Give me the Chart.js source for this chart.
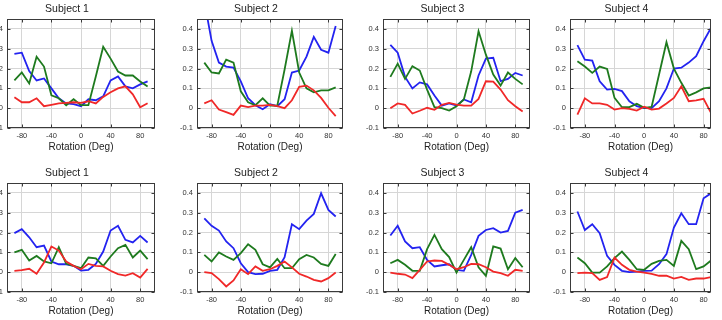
<!DOCTYPE html>
<html>
<head>
<meta charset="utf-8">
<script src="https://cdn.jsdelivr.net/npm/chart.js@4.4.0/dist/chart.umd.min.js"></script>
<style>
  body { margin: 0; width: 722px; height: 320px; overflow: hidden; background: #fff; position: relative; }
  canvas { position: absolute; }
</style>
</head>
<body>
<canvas id="t1"></canvas><canvas id="t2"></canvas><canvas id="t3"></canvas><canvas id="t4"></canvas>
<canvas id="b1"></canvas><canvas id="b2"></canvas><canvas id="b3"></canvas><canvas id="b4"></canvas>
<script>
const angles = [-90, -80, -70, -60, -50, -40, -30, -20, -10, 0, 10, 20, 30, 40, 50, 60, 70, 80, 90];
const xTicks = [-80, -40, 0, 40, 80];
const yTicks = [-0.1, 0, 0.1, 0.2, 0.3, 0.4];
const subjects = ["Subject 1", "Subject 2", "Subject 3", "Subject 4"];
const xLabel = "Rotation (Deg)";

// top row
const top1Blue  = [0.274, 0.28, 0.187, 0.14, 0.15, 0.10, 0.05, 0.024, 0.02, 0.01, 0.045, 0.04, 0.06, 0.14, 0.16, 0.11, 0.10, 0.12, 0.135];
const top1Green = [0.14, 0.18, 0.125, 0.26, 0.21, 0.065, 0.05, 0.015, 0.045, 0.015, 0.015, 0.16, 0.31, 0.25, 0.185, 0.165, 0.165, 0.135, 0.11];
const top1Red   = [0.055, 0.03, 0.03, 0.05, 0.01, 0.017, 0.024, 0.027, 0.03, 0.027, 0.035, 0.024, 0.057, 0.08, 0.10, 0.11, 0.07, 0.005, 0.025];

const top2Blue  = [0.54, 0.34, 0.23, 0.21, 0.205, 0.135, 0.05, 0.015, -0.005, 0.02, 0.01, 0.045, 0.18, 0.19, 0.26, 0.36, 0.295, 0.28, 0.415];
const top2Green = [0.23, 0.18, 0.175, 0.245, 0.23, 0.085, 0.03, 0.015, 0.05, 0.013, 0.013, 0.195, 0.39, 0.18, 0.10, 0.08, 0.09, 0.09, 0.105];
const top2Red   = [0.024, 0.04, -0.007, -0.02, -0.034, 0.013, 0.005, 0.013, 0.013, 0.017, 0.01, 0.0, 0.04, 0.108, 0.114, 0.09, 0.052, 0.002, -0.04];

const top3Blue  = [0.32, 0.28, 0.158, 0.10, 0.13, 0.12, 0.064, 0.013, 0.024, 0.013, 0.044, 0.03, 0.165, 0.25, 0.254, 0.136, 0.148, 0.178, 0.165];
const top3Green = [0.158, 0.225, 0.148, 0.212, 0.19, 0.094, 0.005, 0.0, -0.012, 0.01, 0.044, 0.186, 0.388, 0.27, 0.17, 0.114, 0.18, 0.148, 0.12];
const top3Red   = [0.0, 0.024, 0.017, -0.027, -0.013, 0.002, -0.008, 0.017, 0.027, 0.018, 0.013, 0.013, 0.047, 0.136, 0.134, 0.094, 0.04, 0.01, -0.017];

const top4Blue  = [0.318, 0.245, 0.24, 0.136, 0.094, 0.097, 0.086, 0.035, 0.01, 0.0, 0.0, 0.035, 0.10, 0.20, 0.204, 0.23, 0.262, 0.338, 0.405];
const top4Green = [0.237, 0.21, 0.178, 0.21, 0.198, 0.052, 0.005, 0.005, 0.022, 0.002, 0.007, 0.17, 0.333, 0.2, 0.128, 0.064, 0.08, 0.1, 0.105];
const top4Red   = [-0.032, 0.05, 0.024, 0.024, 0.017, -0.007, 0.0, -0.003, -0.012, 0.007, -0.007, -0.002, 0.024, 0.052, 0.11, 0.035, 0.039, 0.047, -0.024];

// bottom row
const bot1Blue  = [0.197, 0.217, 0.176, 0.126, 0.134, 0.054, 0.04, 0.04, 0.032, 0.008, 0.012, 0.042, 0.104, 0.21, 0.234, 0.163, 0.15, 0.183, 0.15];
const bot1Green = [0.1, 0.113, 0.059, 0.082, 0.054, 0.045, 0.126, 0.042, 0.032, 0.02, 0.074, 0.07, 0.032, 0.079, 0.121, 0.138, 0.074, 0.109, 0.066];
const bot1Red   = [0.007, 0.01, 0.017, -0.008, 0.049, 0.13, 0.109, 0.054, 0.032, 0.015, 0.042, 0.032, 0.029, 0.007, -0.01, -0.017, -0.005, -0.027, 0.017];

const bot2Blue  = [0.272, 0.234, 0.21, 0.155, 0.121, 0.045, 0.0, -0.01, -0.008, 0.007, 0.012, 0.076, 0.242, 0.217, 0.26, 0.294, 0.398, 0.314, 0.281];
const bot2Green = [0.087, 0.054, 0.1, 0.079, 0.062, 0.096, 0.141, 0.113, 0.04, 0.024, 0.067, 0.02, 0.02, 0.066, 0.087, 0.074, 0.042, 0.032, 0.092];
const bot2Red   = [0.0, -0.005, -0.035, -0.072, -0.042, 0.015, -0.01, 0.029, 0.007, 0.015, 0.032, 0.054, 0.024, -0.008, -0.022, -0.039, -0.047, -0.03, -0.002];

const bot3Blue  = [0.185, 0.234, 0.155, 0.121, 0.126, 0.062, 0.029, 0.035, 0.04, 0.012, 0.007, 0.087, 0.183, 0.213, 0.222, 0.2, 0.208, 0.3, 0.314];
const bot3Green = [0.045, 0.062, 0.037, 0.007, 0.007, 0.116, 0.188, 0.116, 0.076, -0.002, 0.062, 0.126, 0.025, -0.018, 0.13, 0.119, 0.015, 0.071, 0.025];
const bot3Red   = [-0.002, -0.008, -0.012, -0.03, 0.012, 0.054, 0.059, 0.057, 0.037, 0.015, 0.025, 0.042, 0.04, 0.025, 0.003, -0.005, -0.018, 0.012, 0.007];

const bot4Blue  = [0.306, 0.213, 0.242, 0.197, 0.082, 0.037, 0.007, 0.0, 0.003, 0.007, 0.008, 0.04, 0.091, 0.225, 0.297, 0.242, 0.242, 0.373, 0.398];
const bot4Green = [0.074, 0.045, -0.002, -0.002, 0.029, 0.071, 0.104, 0.062, 0.015, 0.012, 0.042, 0.057, 0.062, 0.032, 0.158, 0.116, 0.015, 0.029, 0.059];
const bot4Red   = [-0.005, -0.002, -0.005, -0.039, -0.025, 0.074, 0.037, 0.012, 0.003, -0.002, -0.008, -0.018, -0.017, -0.032, -0.024, -0.039, -0.032, -0.032, -0.025];

const FONT = "'Liberation Sans', Arial, Helvetica, sans-serif";
const BLUE = "rgb(35,35,240)", GREEN = "rgb(30,122,30)", RED = "rgb(240,40,40)";
const GRID = "#d6d6d6";

// layout of each panel (plot area left / width), rows by canvas top
const Y_W = 28, TITLE_H = 19, AREA_H = 109, X_H = 25;
const cols = [{ left: 7, w: 148, xMax: 100 }, { left: 197, w: 146, xMax: 100 }, { left: 383, w: 147, xMax: 100 }, { left: 570, w: 141, xMax: 90 }];
const rows = [
  { top: 0, ids: ["t1", "t2", "t3", "t4"], series: [[top1Blue, top1Green, top1Red], [top2Blue, top2Green, top2Red], [top3Blue, top3Green, top3Red], [top4Blue, top4Green, top4Red]] },
  { top: 164, ids: ["b1", "b2", "b3", "b4"], series: [[bot1Blue, bot1Green, bot1Red], [bot2Blue, bot2Green, bot2Red], [bot3Blue, bot3Green, bot3Red], [bot4Blue, bot4Green, bot4Red]] }
];

// matlab-like box with inward ticks
const frame = {
  id: "frame",
  afterDraw(chart) {
    const { ctx, chartArea: a, scales } = chart;
    ctx.save();
    ctx.strokeStyle = "#3a3a3a";
    ctx.lineWidth = 1;
    const l = Math.round(a.left) + 0.5, t = Math.round(a.top) + 0.5;
    const r = Math.round(a.right) - 0.5, b = Math.round(a.bottom) - 0.5;
    ctx.strokeRect(l, t, r - l, b - t);
    ctx.beginPath();
    xTicks.forEach(v => {
      const px = Math.round(scales.x.getPixelForValue(v)) + 0.5;
      ctx.moveTo(px, t); ctx.lineTo(px, t + 3);
      ctx.moveTo(px, b); ctx.lineTo(px, b - 3);
    });
    yTicks.forEach(v => {
      const py = Math.round(scales.y.getPixelForValue(v)) + 0.5;
      ctx.moveTo(l, py); ctx.lineTo(l + 3, py);
      ctx.moveTo(r, py); ctx.lineTo(r - 3, py);
    });
    ctx.stroke();
    ctx.restore();
  }
};

function line(values, color) {
  return {
    data: angles.map((a, i) => ({ x: a, y: values[i] })),
    borderColor: color,
    borderWidth: 1.8,
    pointRadius: 0,
    tension: 0,
    fill: false
  };
}

function makeChart(id, col, top, title, [blue, green, red]) {
  const cv = document.getElementById(id);
  cv.width = Y_W + col.w;
  cv.height = TITLE_H + AREA_H + X_H;
  cv.style.left = (col.left - Y_W) + "px";
  cv.style.top = top + "px";
  new Chart(cv, {
    type: "line",
    data: { datasets: [line(red, RED), line(green, GREEN), line(blue, BLUE)] },
    options: {
      responsive: false,
      animation: false,
      devicePixelRatio: 1,
      layout: { padding: 0 },
      plugins: {
        legend: { display: false },
        tooltip: { enabled: false },
        title: {
          display: true,
          text: title,
          color: "#222",
          font: { size: 10.5, family: FONT, weight: "normal" },
          padding: { top: 3, bottom: 3.4 }
        }
      },
      scales: {
        x: {
          type: "linear",
          min: -100,
          max: col.xMax,
          afterFit: s => { s.height = X_H; },
          afterBuildTicks: s => { s.ticks = xTicks.map(v => ({ value: v })); },
          grid: { color: GRID, drawTicks: false },
          border: { display: false },
          ticks: { color: "#333", font: { size: 7.5, family: FONT }, padding: 3, maxRotation: 0, autoSkip: false },
          title: { display: true, text: xLabel, color: "#222", font: { size: 10, family: FONT }, padding: { top: 0, bottom: 0 } }
        },
        y: {
          min: -0.1,
          max: 0.45,
          afterFit: s => { s.width = Y_W; },
          afterBuildTicks: s => { s.ticks = yTicks.map(v => ({ value: v })); },
          grid: { color: GRID, drawTicks: false },
          border: { display: false },
          ticks: {
            color: "#333",
            font: { size: 7.5, family: FONT },
            padding: 4,
            autoSkip: false,
            callback: v => (v === 0 ? "0" : v.toFixed(1))
          }
        }
      }
    },
    plugins: [frame]
  });
}

rows.forEach(row => {
  cols.forEach((col, i) => makeChart(row.ids[i], col, row.top, subjects[i], row.series[i]));
});
</script>
</body>
</html>
